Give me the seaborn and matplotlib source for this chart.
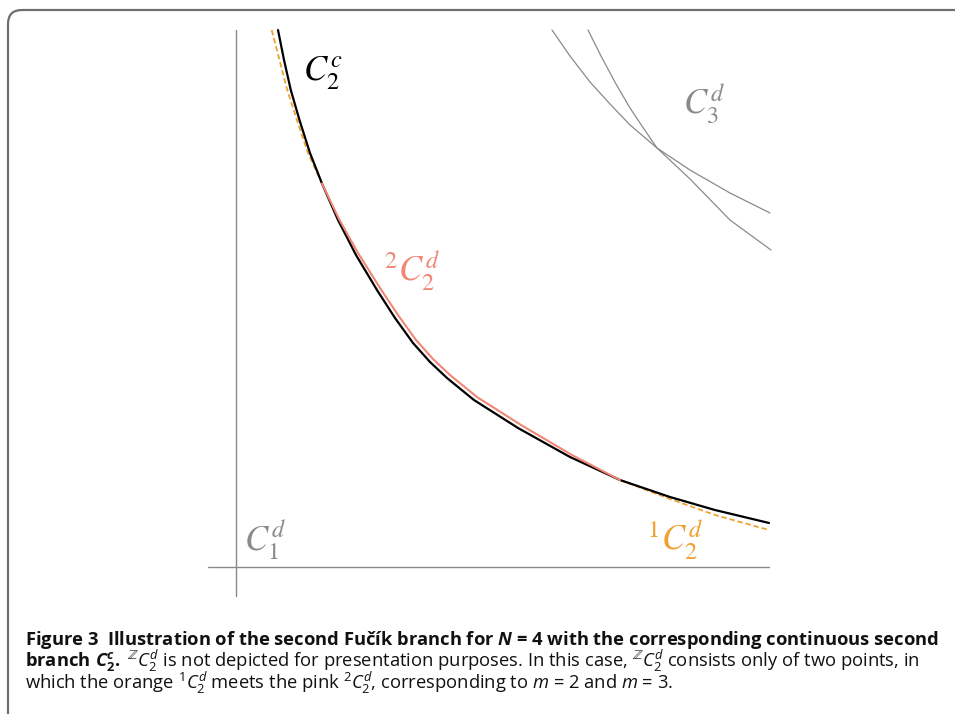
import matplotlib
matplotlib.use('Agg')
import matplotlib.pyplot as plt
from matplotlib.patches import FancyBboxPatch
import seaborn as sns
import pandas as pd

# curve samples (arbitrary lambda units)
black_x = [0.788, 0.901, 1.028, 1.191, 1.388, 1.613, 1.914, 2.251, 2.645, 2.983, 3.321,
           3.640, 3.959, 4.465, 5.291, 6.266, 7.205, 8.143, 8.987, 10.0]
black_y = [10.075, 9.512, 8.949, 8.386, 7.767, 7.195, 6.510, 5.854, 5.197, 4.672, 4.203,
           3.846, 3.546, 3.133, 2.608, 2.064, 1.632, 1.313, 1.069, 0.826]

pink_x = [1.613, 1.932, 2.289, 2.702, 3.039, 3.377, 3.696, 4.015, 4.522, 5.347, 6.304, 7.205]
pink_y = [7.195, 6.529, 5.891, 5.235, 4.728, 4.259, 3.902, 3.602, 3.189, 2.664, 2.101, 1.632]

orange_top_x = [0.670, 0.816, 0.962, 1.143, 1.351, 1.613]
orange_top_y = [10.075, 9.512, 8.949, 8.386, 7.767, 7.195]
orange_bot_x = [7.205, 8.143, 8.987, 10.0]
orange_bot_y = [1.632, 1.276, 0.976, 0.694]

grayA_x = [5.929, 6.266, 6.642, 7.017, 7.392, 7.899, 8.518, 9.268, 10.019]
grayA_y = [10.075, 9.587, 9.099, 8.687, 8.293, 7.861, 7.448, 7.017, 6.642]
grayB_x = [6.604, 6.848, 7.129, 7.392, 7.655, 7.899, 8.518, 9.268, 10.038]
grayB_y = [10.075, 9.587, 9.062, 8.612, 8.218, 7.861, 7.280, 6.510, 5.947]

axis_x = [-0.53, 10.0]
axis_y = [-0.54, 10.07]

BLACK = '#000000'
PINK = '#ef8676'
ORANGE = '#f0a12e'
GRAY = '#8a8a8a'

sns.set_theme(style='white')
plt.rcParams['font.family'] = ['Open Sans', 'DejaVu Sans']
plt.rcParams['mathtext.fontset'] = 'custom'
plt.rcParams['mathtext.rm'] = 'Open Sans'
plt.rcParams['mathtext.it'] = 'Open Sans:italic'
plt.rcParams['mathtext.bf'] = 'Open Sans:bold'
plt.rcParams['mathtext.bfit'] = 'Open Sans:italic:bold'


def frame(xs, ys, name):
    return pd.DataFrame({'x': xs, 'y': ys, 'curve': name})


fig = plt.figure(figsize=(9.55, 7.14), dpi=100)
ax = fig.add_axes([0, 0, 1, 1])
s = 53.3
ax.set_xlim(-236 / s, (955 - 236) / s)
ax.set_ylim((567 - 714) / s, 567 / s)
ax.axis('off')

# coordinate axes
ax.plot(axis_x, [0, 0], color=GRAY, lw=1.0)
ax.plot([0, 0], axis_y, color=GRAY, lw=1.0)

for xs, ys, name in [(grayA_x, grayA_y, 'A'), (grayB_x, grayB_y, 'B')]:
    sns.lineplot(data=frame(xs, ys, name), x='x', y='y', sort=False, estimator=None,
                 color=GRAY, lw=0.9, ax=ax)

for xs, ys, name in [(orange_top_x, orange_top_y, 'o1'), (orange_bot_x, orange_bot_y, 'o2')]:
    sns.lineplot(data=frame(xs, ys, name), x='x', y='y', sort=False, estimator=None,
                 color=ORANGE, lw=1.3, ax=ax, linestyle=(0, (3, 1.6)))

sns.lineplot(data=frame(black_x, black_y, 'c'), x='x', y='y', sort=False, estimator=None,
             color=BLACK, lw=1.6, ax=ax)
sns.lineplot(data=frame(pink_x, pink_y, 'p'), x='x', y='y', sort=False, estimator=None,
             color=PINK, lw=1.5, ax=ax)

lbl = dict(fontsize=25, math_fontfamily='stix', ha='center', va='center')
ax.text(1.62, 9.27, r'$C_2^c$', color=BLACK, **lbl)
ax.text(8.77, 8.70, r'$C_3^d$', color=GRAY, **lbl)
ax.text(3.30, 5.55, r'$^2C_2^d$', color=PINK, **lbl)
ax.text(8.24, 0.52, r'$^1C_2^d$', color=ORANGE, **lbl)
ax.text(0.55, 0.52, r'$C_1^d$', color=GRAY, **lbl)

# rounded frame (display coords, origin bottom-left), open to the right and bottom
box = FancyBboxPatch((8, -300), 1100, 714 - 10 + 300, boxstyle='round,pad=0,rounding_size=14',
                     transform=None, fill=False, edgecolor='#6f6f6f', lw=1.6)
fig.patches.append(box)

H = 714
cap = dict(fontsize=13.2, color='#111111', ha='left', va='baseline')
fig.text(25 / 955, 1 - 645 / H,
         r'Figure 3  Illustration of the second Fučík branch for $\mathbfit{N}$ = 4 with the corresponding continuous second',
         fontweight='bold', **cap)
fig.text(25 / 955, 1 - 667 / H,
         r'$\mathbf{branch}\ \mathbfit{C}_{\mathbf{2}}^{\mathbfit{c}}\mathbf{.}$ $^{\mathbb{Z}}C_2^d$ is not depicted for presentation purposes. In this case, $^{\mathbb{Z}}C_2^d$ consists only of two points, in',
         **cap)
fig.text(25 / 955, 1 - 689 / H,
         r'which the orange $^1C_2^d$ meets the pink $^2C_2^d$, corresponding to $m$ = 2 and $m$ = 3.',
         **cap)

fig.savefig('out.png', dpi=100)
